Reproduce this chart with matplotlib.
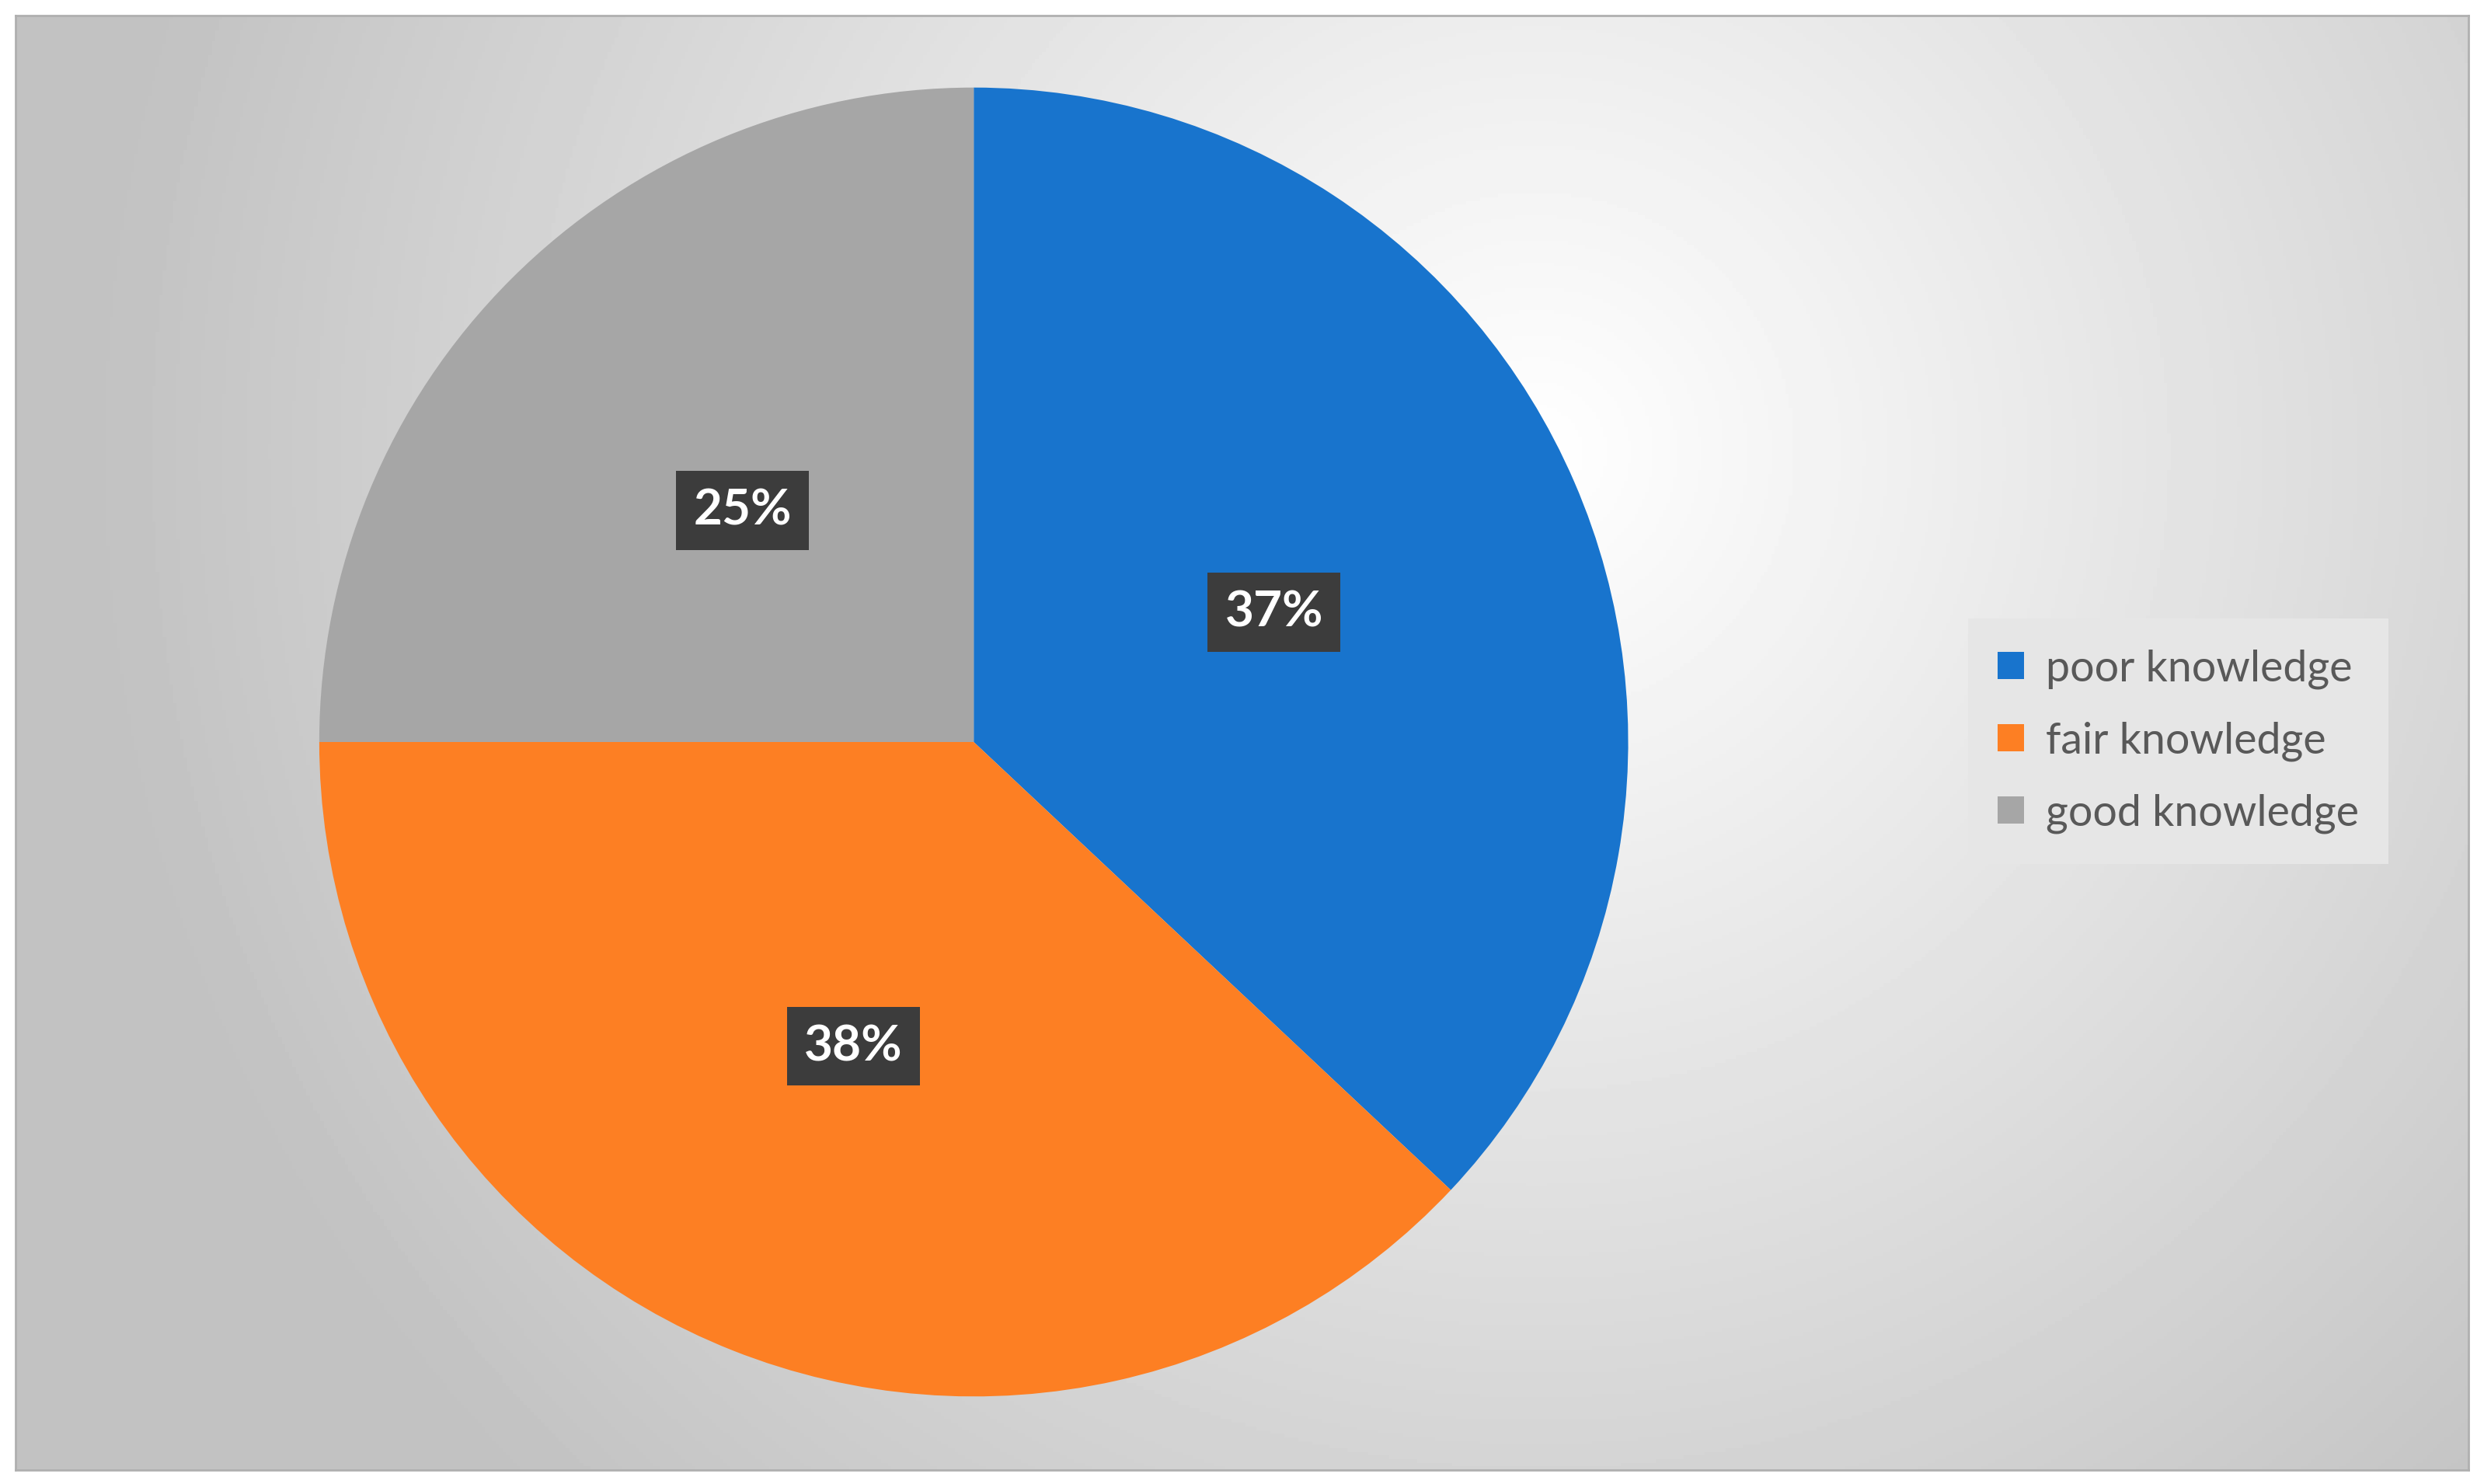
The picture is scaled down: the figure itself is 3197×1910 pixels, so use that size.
import numpy as np
import matplotlib
matplotlib.use("Agg")
import matplotlib.pyplot as plt
from matplotlib.patches import Rectangle

labels = ["poor knowledge", "fair knowledge", "good knowledge"]
values = [37, 38, 25]
colors = ["#1874cd", "#fd7f23", "#a6a6a6"]

plt.rcParams['font.family'] = ['Lato', 'DejaVu Sans']
fig = plt.figure(figsize=(31.97, 19.10), dpi=100)
fig.patch.set_facecolor("white")

# background frame with radial gradient
bg = fig.add_axes([10/1568, 1-928/937, 1548/1568, 918/937])
ny, nx = 400, 700
yy, xx = np.mgrid[0:1:ny*1j, 0:1:nx*1j]
d = np.sqrt(((xx-0.62)*1.7)**2 + ((yy-0.3)*1.0)**2)
d = np.clip(d/1.0, 0, 1)
v = 1.0 - 0.24*d
bg.imshow(v, cmap="gray", vmin=0, vmax=1, aspect="auto", extent=[0, 1, 0, 1], origin="upper")
bg.set_xticks([]); bg.set_yticks([])
for s in bg.spines.values():
    s.set_color("#b0b0b0"); s.set_linewidth(2)

h = 0.882
w = h*1910/3197
ax = fig.add_axes([0.392-w/2, 0.5-h/2, w, h])
wedges, texts, autotexts = ax.pie(values, colors=colors, startangle=90, counterclock=False,
                                  autopct='%d%%', pctdistance=0.5, radius=1.0,
                                  textprops=dict(color="white", fontsize=46, fontweight="bold"))
for t in autotexts:
    t.set_bbox(dict(boxstyle="square,pad=0.35", facecolor="#3c3c3c", edgecolor="none"))
ax.set_xlim(-1, 1); ax.set_ylim(-1, 1)
ax.set_aspect("equal")

leg = fig.legend(wedges, labels, loc="center", bbox_to_anchor=(1375/1568, 1-468/937),
                 fontsize=40, frameon=True, fancybox=False, handlelength=0.6, handleheight=0.6,
                 handletextpad=0.5, labelspacing=0.75, borderpad=0.7, labelcolor="#595959")
leg.get_frame().set_facecolor("#e6e6e6")
leg.get_frame().set_edgecolor("none")
leg.get_frame().set_alpha(1)

fig.savefig("out.png", dpi=100)
